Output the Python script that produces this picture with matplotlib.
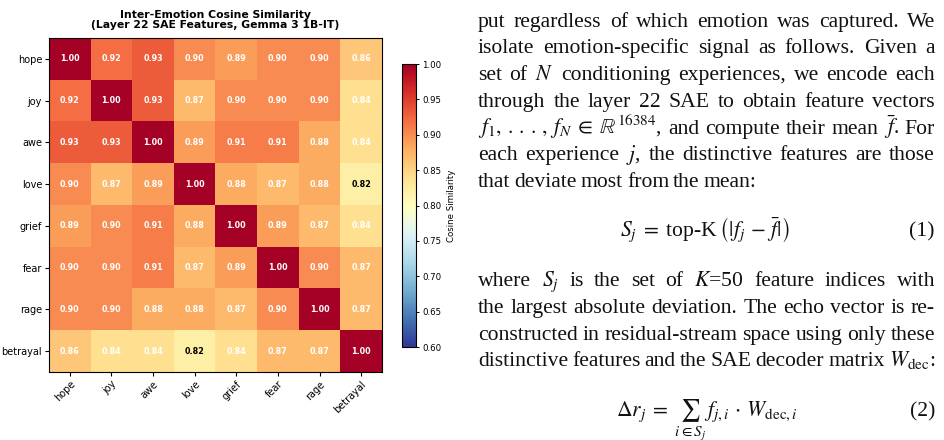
import matplotlib
matplotlib.use("Agg")
import matplotlib.pyplot as plt
import numpy as np

plt.rcParams['mathtext.fontset'] = 'stix'

emotions = ["hope", "joy", "awe", "love", "grief", "fear", "rage", "betrayal"]
sim = np.array([
    [1.00, 0.92, 0.93, 0.90, 0.89, 0.90, 0.90, 0.86],
    [0.92, 1.00, 0.93, 0.87, 0.90, 0.90, 0.90, 0.84],
    [0.93, 0.93, 1.00, 0.89, 0.91, 0.91, 0.88, 0.84],
    [0.90, 0.87, 0.89, 1.00, 0.88, 0.87, 0.88, 0.82],
    [0.89, 0.90, 0.91, 0.88, 1.00, 0.89, 0.87, 0.84],
    [0.90, 0.90, 0.91, 0.87, 0.89, 1.00, 0.90, 0.87],
    [0.90, 0.90, 0.88, 0.88, 0.87, 0.90, 1.00, 0.87],
    [0.86, 0.84, 0.84, 0.82, 0.84, 0.87, 0.87, 1.00],
])
cbar_ticks = [0.60, 0.65, 0.70, 0.75, 0.80, 0.85, 0.90, 0.95, 1.00]

W, H = 945, 440
fig = plt.figure(figsize=(W / 100, H / 100), dpi=100)

def px(x0, y0, w, h):
    # pixel box (top-left origin) -> figure fraction
    return [x0 / W, 1 - (y0 + h) / H, w / W, h / H]

ax = fig.add_axes(px(49, 38, 333, 334))
im = ax.imshow(sim, cmap='RdYlBu_r', vmin=0.6, vmax=1.0, aspect='auto')
for i in range(len(emotions)):
    for j in range(len(emotions)):
        v = sim[i, j]
        ax.text(j, i, f"{v:.2f}", ha='center', va='center', fontsize=5.8,
                fontweight='bold', color='white' if v > 0.83 else 'black')
ax.set_xticks(range(len(emotions)))
ax.set_yticks(range(len(emotions)))
ax.set_xticklabels(emotions, rotation=45, ha='right', rotation_mode='anchor', fontsize=7)
ax.set_yticklabels(emotions, fontsize=7)
ax.tick_params(length=3, width=0.8, pad=2)
ax.set_title("Inter-Emotion Cosine Similarity\n(Layer 22 SAE Features, Gemma 3 1B-IT)",
             fontsize=7.8, fontweight='bold', pad=7, linespacing=1.05)

cax = fig.add_axes(px(402, 64, 14, 283))
cb = fig.colorbar(im, cax=cax, ticks=cbar_ticks)
cb.ax.tick_params(labelsize=6.2, length=2.5, width=0.7, pad=2)
cb.set_label("Cosine Similarity", fontsize=6.2, labelpad=4)

# paper text on the right
serif = dict(family='Liberation Serif', fontsize=15.6, color='#111111')
x_left, x_right = 478, 935
renderer = fig.canvas.get_renderer()

def put_line(words, y, justify=True):
    texts = [fig.text(0, 1 - y / H, w_, va='baseline', ha='left', **serif) for w_ in words]
    widths = [t.get_window_extent(renderer).width for t in texts]
    space = 4.0
    if justify and len(words) > 1:
        space = (x_right - x_left - sum(widths)) / (len(words) - 1)
    x = x_left
    for t, wd in zip(texts, widths):
        t.set_x(x / W)
        x += wd + space

lines = [
    ("put regardless of which emotion was captured. We", True),
    ("isolate emotion-specific signal as follows. Given a", True),
    ("set of $N$ conditioning experiences, we encode each", True),
    ("through the layer 22 SAE to obtain feature vectors", True),
    (r"$f_1,\:.\,.\,.\,,\:f_N\;\in\;\mathbb{R}^{16384}$, and compute their mean $\bar{f}$. For", True),
    ("each experience $j$, the distinctive features are those", True),
    ("that deviate most from the mean:", False),
]
for k, (s, just) in enumerate(lines):
    put_line(s.split(' '), 26.7 + k * 26.7, just)

fig.text(705 / W, 1 - 236 / H,
         r"$S_j\;=\;$top-K$\:\left(|f_j\,-\,\bar{f}|\right)$",
         ha='center', va='baseline', **serif)
fig.text(x_right / W, 1 - 236 / H, "(1)", ha='right', va='baseline', **serif)

lines2 = [
    ("where $S_j$ is the set of $K$=50 feature indices with", True),
    ("the largest absolute deviation. The echo vector is re-", True),
    ("constructed in residual-stream space using only these", True),
    (r"distinctive features and the SAE decoder matrix $W_{\mathrm{dec}}$:", True),
]
for k, (s, just) in enumerate(lines2):
    put_line(s.split(' '), 286.5 + k * 26.6, just)

fig.text(707 / W, 1 - 416 / H,
         r"$\Delta r_j\;=\;\sum_{i\in S_j}\, f_{j,i}\,\cdot\,W_{\mathrm{dec},i}$",
         ha='center', va='baseline', **serif)
fig.text(x_right / W, 1 - 416 / H, "(2)", ha='right', va='baseline', **serif)

fig.savefig("out.png", dpi=100)
